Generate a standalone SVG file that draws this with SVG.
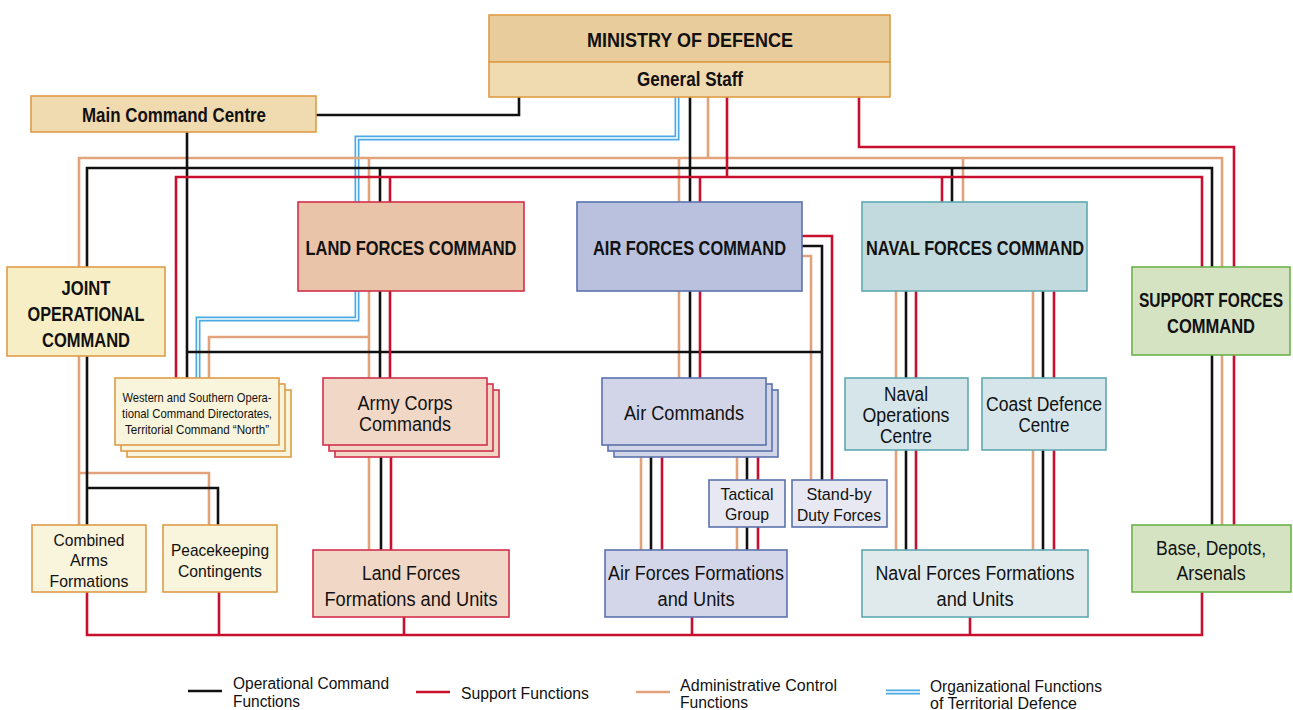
<svg xmlns="http://www.w3.org/2000/svg" width="1293" height="710" viewBox="0 0 1293 710">
<style>
text{font-family:"Liberation Sans Narrow","Liberation Sans",Arial,sans-serif;fill:#111;text-anchor:middle}
.b{font-weight:bold;font-size:21px}
.m{font-size:20px}
.s{font-size:17px}
.xs{font-size:13px}
.lg{font-size:16px;text-anchor:start}
.k,.t,.r,.bl,.bw{fill:none;stroke-linejoin:miter}
.k{stroke:#111;stroke-width:2.6}
.t{stroke:#e2a37c;stroke-width:2.6}
.r{stroke:#c8102e;stroke-width:2.6}
.bl{stroke:#4aaae3;stroke-width:5}
.bw{stroke:#fff;stroke-width:1.6}
.org{stroke:#df9c48;stroke-width:1.6}
.red{stroke:#d3304b;stroke-width:1.6}
.blu{stroke:#5a72ad;stroke-width:1.6}
.tea{stroke:#5ea9b0;stroke-width:1.6}
.grn{stroke:#6cb24a;stroke-width:1.6}
</style>
<g id="connectors">
<path class="bl" d="M677,97 V138 H357 V202 M357,291 V319 H198 V378"/>
<path class="bw" d="M677,97 V138 H357 V202 M357,291 V319 H198 V378"/>
<path class="t" d="M708,97 V158 M79,267 V158 H1222 V267 M369,158 V202 M679,158 V202 M963,158 V202 M369,291 V378 M369,337 H209 V378 M679,291 V378 M802,256 H811 V480 M369,457 V550 M641,457 V550 M737,457 V480 M737,527 V550 M896,291 V378 M896,450 V550 M1033,291 V378 M1033,450 V550 M79,356 V525 M79,473 H209 V525 M1222,355 V525"/>
<path class="k" d="M316,115 H519 V97 M187,132 V378 M690,97 V202 M87,267 V168 H1212 V267 M380,168 V202 M952,168 V202 M187,352 H822 M802,246 H822 V480 M380,291 V378 M690,291 V378 M381,457 V550 M651,457 V550 M747,457 V480 M747,527 V550 M906,291 V378 M906,450 V550 M1043,291 V378 M1043,450 V550 M87,356 V525 M87,488 H218 V525 M1212,355 V525"/>
<path class="r" d="M727,97 V177 M176,378 V177 H1202 V267 M390,177 V202 M700,177 V202 M942,177 V202 M859,97 V147 H1234 V267 M1234,355 V525 M390,291 V378 M391,457 V550 M700,291 V378 M662,457 V550 M758,457 V480 M758,527 V550 M802,236 H832 V480 M916,291 V378 M916,450 V550 M1054,291 V378 M1054,450 V550 M87,592 V635 H1202 V592 M219,592 V635 M404,617 V635 M692,617 V635 M970,617 V635"/>
</g>
<g id="ministry">
<rect x="489" y="15" width="401" height="47" fill="#e9cc9c" class="org"/>
<rect x="489" y="62" width="401" height="35" fill="#f0dab0" class="org"/>
<text class="b" x="690" y="47" textLength="206" lengthAdjust="spacingAndGlyphs">MINISTRY OF DEFENCE</text>
<text class="b" x="690" y="86" font-size="19" textLength="106" lengthAdjust="spacingAndGlyphs">General Staff</text>
</g>
<g id="main-command-centre">
<rect x="31" y="96" width="285" height="36" fill="#f0dab0" class="org"/>
<text class="b" x="174" y="122" font-size="19" textLength="184" lengthAdjust="spacingAndGlyphs">Main Command Centre</text>
</g>
<g id="joint-operational-command">
<rect x="7" y="267" width="158" height="89" fill="#f8eec6" class="org"/>
<text class="b" x="86" y="295" textLength="49" lengthAdjust="spacingAndGlyphs">JOINT</text>
<text class="b" x="86" y="321" textLength="117" lengthAdjust="spacingAndGlyphs">OPERATIONAL</text>
<text class="b" x="86" y="347" textLength="88" lengthAdjust="spacingAndGlyphs">COMMAND</text>
</g>
<g id="land-forces-command">
<rect x="298" y="202" width="226" height="89" fill="#e9c4a8" class="red"/>
<text class="b" x="411" y="255" textLength="211" lengthAdjust="spacingAndGlyphs">LAND FORCES COMMAND</text>
</g>
<g id="air-forces-command">
<rect x="577" y="202" width="225" height="89" fill="#b9c1de" class="blu"/>
<text class="b" x="689.5" y="255" textLength="193" lengthAdjust="spacingAndGlyphs">AIR FORCES COMMAND</text>
</g>
<g id="naval-forces-command">
<rect x="862" y="202" width="225" height="89" fill="#c2dade" class="tea"/>
<text class="b" x="975" y="255" textLength="218" lengthAdjust="spacingAndGlyphs">NAVAL FORCES COMMAND</text>
</g>
<g id="support-forces-command">
<rect x="1132" y="267" width="158" height="88" fill="#d5e3c3" class="grn"/>
<text class="b" x="1211" y="307" font-size="20" textLength="144" lengthAdjust="spacingAndGlyphs">SUPPORT FORCES</text>
<text class="b" x="1211" y="333" textLength="88" lengthAdjust="spacingAndGlyphs">COMMAND</text>
</g>
<g id="operational-directorates">
<rect x="127" y="390" width="164" height="67" fill="#f9f4dc" class="org"/>
<rect x="121" y="384" width="164" height="67" fill="#f9f4dc" class="org"/>
<rect x="115" y="378" width="164" height="67" fill="#f9f4dc" class="org"/>
<text class="xs" x="197" y="402" textLength="149" lengthAdjust="spacingAndGlyphs">Western and Southern Opera-</text>
<text class="xs" x="197" y="418" textLength="150" lengthAdjust="spacingAndGlyphs">tional Command Directorates,</text>
<text class="xs" x="197" y="434" textLength="144" lengthAdjust="spacingAndGlyphs">Territorial Command “North”</text>
</g>
<g id="army-corps-commands">
<rect x="335" y="390" width="164" height="67" fill="#f1d7c5" class="red"/>
<rect x="329" y="384" width="164" height="67" fill="#f1d7c5" class="red"/>
<rect x="323" y="378" width="164" height="67" fill="#f1d7c5" class="red"/>
<text class="m" x="405" y="410" textLength="95" lengthAdjust="spacingAndGlyphs">Army Corps</text>
<text class="m" x="405" y="431" textLength="92" lengthAdjust="spacingAndGlyphs">Commands</text>
</g>
<g id="air-commands">
<rect x="614" y="390" width="164" height="67" fill="#d1d5e7" class="blu"/>
<rect x="608" y="384" width="164" height="67" fill="#d1d5e7" class="blu"/>
<rect x="602" y="378" width="164" height="67" fill="#d1d5e7" class="blu"/>
<text class="m" x="684" y="420" textLength="120" lengthAdjust="spacingAndGlyphs">Air Commands</text>
</g>
<g id="naval-operations-centre">
<rect x="845" y="378" width="123" height="72" fill="#d5e5e9" class="tea"/>
<text class="m" x="906" y="401" textLength="44" lengthAdjust="spacingAndGlyphs">Naval</text>
<text class="m" x="906" y="422" textLength="87" lengthAdjust="spacingAndGlyphs">Operations</text>
<text class="m" x="906" y="443" textLength="52" lengthAdjust="spacingAndGlyphs">Centre</text>
</g>
<g id="coast-defence-centre">
<rect x="982" y="378" width="124" height="72" fill="#d5e5e9" class="tea"/>
<text class="m" x="1044" y="411" textLength="116" lengthAdjust="spacingAndGlyphs">Coast Defence</text>
<text class="m" x="1044" y="432" textLength="51" lengthAdjust="spacingAndGlyphs">Centre</text>
</g>
<g id="tactical-group">
<rect x="709" y="480" width="76" height="47" fill="#e7e8f1" class="blu"/>
<text class="s" x="747" y="500" textLength="53" lengthAdjust="spacingAndGlyphs">Tactical</text>
<text class="s" x="747" y="520" textLength="44" lengthAdjust="spacingAndGlyphs">Group</text>
</g>
<g id="stand-by-duty-forces">
<rect x="792" y="480" width="95" height="47" fill="#e7e8f1" class="blu"/>
<text class="s" x="839" y="500" textLength="65" lengthAdjust="spacingAndGlyphs">Stand-by</text>
<text class="s" x="839" y="521" textLength="84" lengthAdjust="spacingAndGlyphs">Duty Forces</text>
</g>
<g id="combined-arms-formations">
<rect x="32" y="525" width="114" height="67" fill="#f9f4dc" class="org"/>
<text class="s" x="89" y="546" textLength="71" lengthAdjust="spacingAndGlyphs">Combined</text>
<text class="s" x="89" y="566" textLength="38" lengthAdjust="spacingAndGlyphs">Arms</text>
<text class="s" x="89" y="587" textLength="79" lengthAdjust="spacingAndGlyphs">Formations</text>
</g>
<g id="peacekeeping-contingents">
<rect x="163" y="525" width="114" height="67" fill="#f9f4dc" class="org"/>
<text class="s" x="220" y="556" textLength="98" lengthAdjust="spacingAndGlyphs">Peacekeeping</text>
<text class="s" x="220" y="577" textLength="84" lengthAdjust="spacingAndGlyphs">Contingents</text>
</g>
<g id="land-forces-formations">
<rect x="313" y="550" width="196" height="67" fill="#f1d7c5" class="red"/>
<text class="m" x="411" y="580" textLength="98" lengthAdjust="spacingAndGlyphs">Land Forces</text>
<text class="m" x="411" y="606" textLength="173" lengthAdjust="spacingAndGlyphs">Formations and Units</text>
</g>
<g id="air-forces-formations">
<rect x="605" y="550" width="182" height="67" fill="#d3d6e8" class="blu"/>
<text class="m" x="696" y="580" textLength="176" lengthAdjust="spacingAndGlyphs">Air Forces Formations</text>
<text class="m" x="696" y="606" textLength="77" lengthAdjust="spacingAndGlyphs">and Units</text>
</g>
<g id="naval-forces-formations">
<rect x="862" y="550" width="226" height="67" fill="#e0eaed" class="tea"/>
<text class="m" x="975" y="580" textLength="199" lengthAdjust="spacingAndGlyphs">Naval Forces Formations</text>
<text class="m" x="975" y="606" textLength="77" lengthAdjust="spacingAndGlyphs">and Units</text>
</g>
<g id="base-depots-arsenals">
<rect x="1132" y="525" width="159" height="67" fill="#d5e3c3" class="grn"/>
<text class="m" x="1211" y="555" textLength="110" lengthAdjust="spacingAndGlyphs">Base, Depots,</text>
<text class="m" x="1211" y="580" textLength="69" lengthAdjust="spacingAndGlyphs">Arsenals</text>
</g>
<g id="legend">
<path class="k" d="M188,691 H222" stroke-width="3"/>
<text class="lg" x="233" y="689" textLength="156" lengthAdjust="spacingAndGlyphs">Operational Command</text>
<text class="lg" x="233" y="707" textLength="67" lengthAdjust="spacingAndGlyphs">Functions</text>
<path class="r" d="M416,692 H450" stroke-width="3"/>
<text class="lg" x="461" y="699" textLength="128" lengthAdjust="spacingAndGlyphs">Support Functions</text>
<path class="t" d="M636,692 H670" stroke-width="3"/>
<text class="lg" x="680" y="691" textLength="157" lengthAdjust="spacingAndGlyphs">Administrative Control</text>
<text class="lg" x="680" y="708" textLength="68" lengthAdjust="spacingAndGlyphs">Functions</text>
<path class="bl" d="M886,692 H920"/>
<path class="bw" d="M886,692 H920"/>
<text class="lg" x="930" y="692" textLength="172" lengthAdjust="spacingAndGlyphs">Organizational Functions</text>
<text class="lg" x="930" y="709" textLength="147" lengthAdjust="spacingAndGlyphs">of Territorial Defence</text>
</g>
</svg>
